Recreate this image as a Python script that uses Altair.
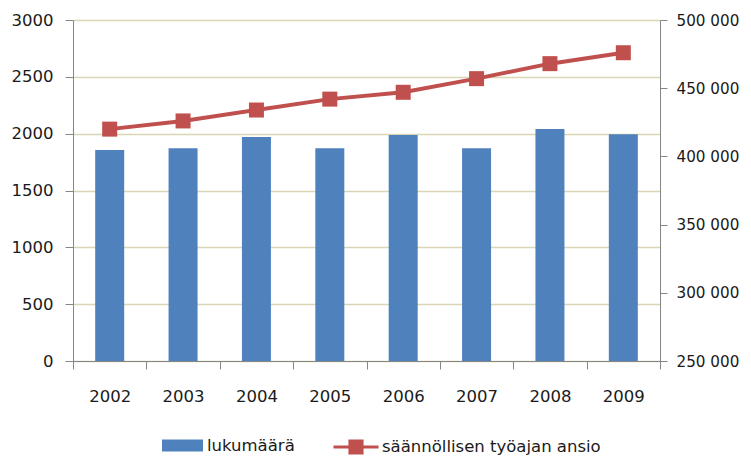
import altair as alt
import pandas as pd

years = ["2002", "2003", "2004", "2005", "2006", "2007", "2008", "2009"]
lukumaara = [1856, 1871, 1971, 1871, 1988, 1871, 2041, 1994]
ansio = [420000, 426000, 434000, 442000, 447000, 457000, 468000, 476000]
left_ticks = [0, 500, 1000, 1500, 2000, 2500, 3000]
right_ticks = [250000, 300000, 350000, 400000, 450000, 500000]
bar_label = "lukumäärä"
line_label = "säännöllisen työajan ansio"

BLUE = "#4F81BD"
RED = "#C0504D"
GRID = "#D9D5B5"
AXIS = "#868686"
TEXT = "#1a1a1a"
FONT = "DejaVu Sans"
FS = 16.5

df = pd.DataFrame({
    "vuosi": years,
    "lukumaara": lukumaara,
    "ansio": ansio,
    "s_bar": [bar_label] * len(years),
    "s_line": [line_label] * len(years),
})

x_enc = alt.X(
    "vuosi:N", title=None, sort=years,
    scale=alt.Scale(paddingInner=0, paddingOuter=0),
    axis=alt.Axis(labelAngle=0, tickBand="extent", tickSize=8, tickColor=AXIS,
                  domainColor=AXIS, labelFontSize=FS, labelPadding=19,
                  labelColor=TEXT, labelFont=FONT, grid=False),
)

bars = alt.Chart(df).mark_bar(size=29).encode(
    x=x_enc,
    y=alt.Y("lukumaara:Q", title=None, scale=alt.Scale(domain=[0, 3000]),
            axis=alt.Axis(values=left_ticks, grid=True, gridColor=GRID, gridWidth=1.5,
                          tickSize=8, tickColor=AXIS, domainColor=AXIS,
                          labelFontSize=FS, labelPadding=12, labelColor=TEXT,
                          labelFont=FONT, format="d")),
    fill=alt.Fill("s_bar:N", scale=alt.Scale(domain=[bar_label], range=[BLUE]),
                  legend=alt.Legend(title=None, orient="none", legendX=89, legendY=405,
                                    symbolType="M-1,-0.29H1V0.29H-1Z", symbolSize=1681,
                                    symbolStrokeWidth=0, labelFontSize=FS, labelFont=FONT,
                                    labelColor=TEXT, labelOffset=4, labelLimit=0, padding=0)),
)

right_axis = alt.Axis(orient="right", values=right_ticks, grid=False,
                      tickSize=7, tickColor=AXIS, domainColor=AXIS,
                      labelFontSize=15.2, labelPadding=9, labelColor=TEXT,
                      labelFont=FONT,
                      labelExpr="replace(format(datum.value, ','), ',', ' ')")

line = alt.Chart(df).mark_line(strokeWidth=4).encode(
    x=x_enc,
    y=alt.Y("ansio:Q", title=None, scale=alt.Scale(domain=[250000, 500000]), axis=right_axis),
    stroke=alt.Stroke("s_line:N", scale=alt.Scale(domain=[line_label], range=[RED]),
                      legend=alt.Legend(title=None, orient="none", legendX=259, legendY=403,
                                        symbolType="M-1,0H1M-0.27,-0.27H0.27V0.27H-0.27Z",
                                        symbolSize=2025, symbolStrokeWidth=3,
                                        symbolFillColor=RED, labelFontSize=FS,
                                        labelFont=FONT, labelColor=TEXT, labelOffset=2,
                                        labelLimit=0, padding=0)),
)

points = alt.Chart(df).mark_square(size=225, color=RED, opacity=1).encode(
    x=x_enc,
    y=alt.Y("ansio:Q", title=None, scale=alt.Scale(domain=[250000, 500000]), axis=right_axis),
)

chart = alt.layer(bars, alt.layer(line, points)).resolve_scale(
    y="independent", fill="independent", stroke="independent"
).properties(
    width=587, height=341,
    autosize=alt.AutoSizeParams(type="none"),
    padding={"left": 65, "top": 12, "right": 83, "bottom": 96},
).configure_view(stroke=None)

chart.save("out.html", embed_options={"renderer": "svg", "actions": False})
